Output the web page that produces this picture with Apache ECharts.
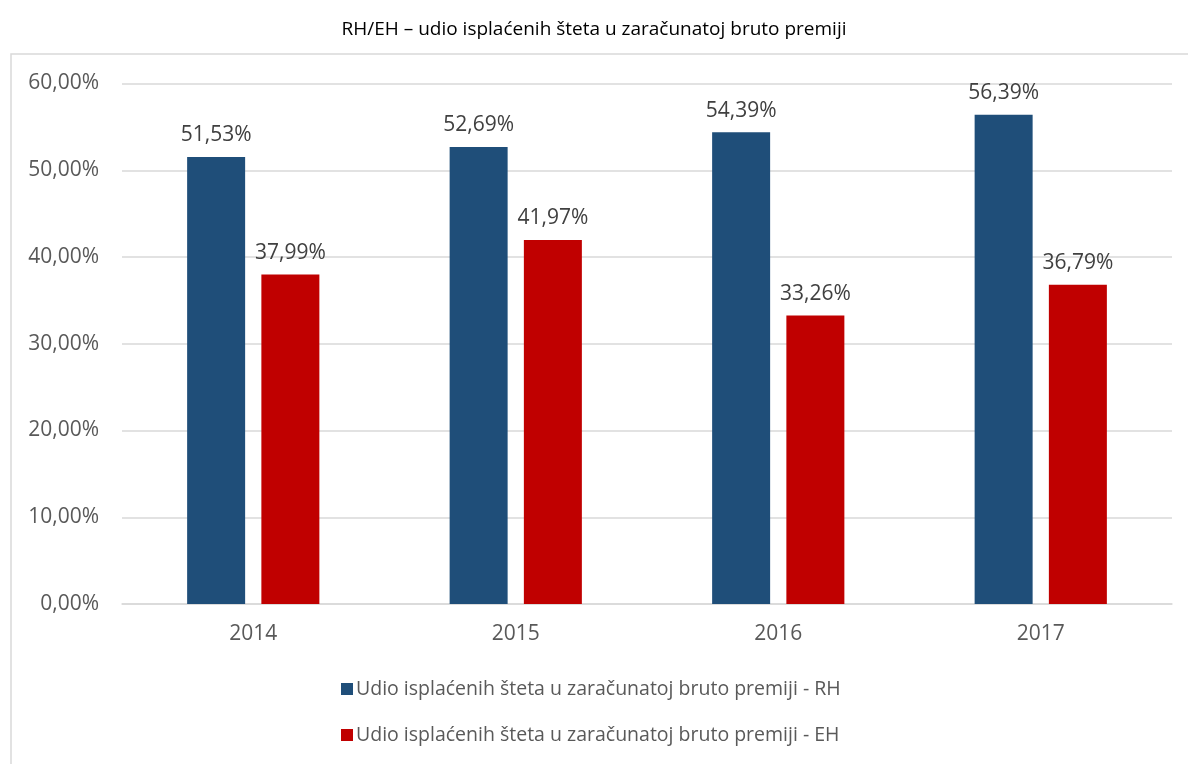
<!DOCTYPE html>
<html>
<head>
<meta charset="utf-8">
<script src="https://cdn.jsdelivr.net/npm/echarts@6/dist/echarts.min.js"></script>
<style>
  html, body { margin: 0; padding: 0; background: #fff; }
  #chart { width: 1188px; height: 764px; }
</style>
</head>
<body>
<div id="chart"></div>
<script>
const years = ["2014", "2015", "2016", "2017"];
const rhValues = [51.53, 52.69, 54.39, 56.39];
const ehValues = [37.99, 41.97, 33.26, 36.79];
const seriesNames = [
  "Udio isplaćenih šteta u zaračunatoj bruto premiji - RH",
  "Udio isplaćenih šteta u zaračunatoj bruto premiji - EH"
];
const chartTitle = "RH/EH – udio isplaćenih šteta u zaračunatoj bruto premiji";

const fmt = v => v.toFixed(2).replace(".", ",") + "%";
const font = "'Open Sans', 'Noto Sans', sans-serif";

const chart = echarts.init(document.getElementById("chart"));
chart.setOption({
  animation: false,
  title: {
    text: chartTitle,
    left: "center",
    top: 15,
    textStyle: { fontFamily: font, fontSize: 19, fontWeight: "normal", color: "#000" }
  },
  graphic: [
    {
      type: "rect",
      shape: { x: 11, y: 54, width: 1200, height: 800 },
      style: { fill: "none", stroke: "#D9D9D9", lineWidth: 1.5 },
      silent: true
    }
  ],
  grid: { left: 122, right: 16, top: 83.5, bottom: 160, containLabel: false },
  legend: {
    orient: "vertical",
    left: 341,
    top: 679,
    padding: 0,
    itemWidth: 12,
    itemHeight: 12,
    itemGap: 26,
    icon: "rect",
    textStyle: { fontFamily: font, fontSize: 19.5, color: "#595959", padding: [0, 0, 0, -2] },
    data: seriesNames
  },
  xAxis: {
    type: "category",
    data: years,
    axisLine: { lineStyle: { color: "#D9D9D9", width: 1.5 } },
    axisTick: { show: false },
    axisLabel: { fontFamily: font, fontSize: 21, color: "#595959", margin: 20 }
  },
  yAxis: {
    type: "value",
    min: 0,
    max: 60,
    interval: 10,
    axisLine: { show: false },
    axisTick: { show: false },
    splitLine: { lineStyle: { color: "#D9D9D9", width: 1.5 } },
    axisLabel: { fontFamily: font, fontSize: 21, color: "#595959", margin: 23, formatter: fmt }
  },
  series: [
    {
      name: seriesNames[0],
      type: "bar",
      data: rhValues,
      barWidth: 58,
      barGap: "28%",
      itemStyle: { color: "#1F4E79" },
      label: {
        show: true,
        position: "top",
        distance: 11,
        fontFamily: font,
        fontSize: 21,
        color: "#404040",
        formatter: p => fmt(p.value)
      }
    },
    {
      name: seriesNames[1],
      type: "bar",
      data: ehValues,
      barWidth: 58,
      itemStyle: { color: "#C00000" },
      label: {
        show: true,
        position: "top",
        distance: 11,
        fontFamily: font,
        fontSize: 21,
        color: "#404040",
        formatter: p => fmt(p.value)
      }
    }
  ]
});
</script>
</body>
</html>
